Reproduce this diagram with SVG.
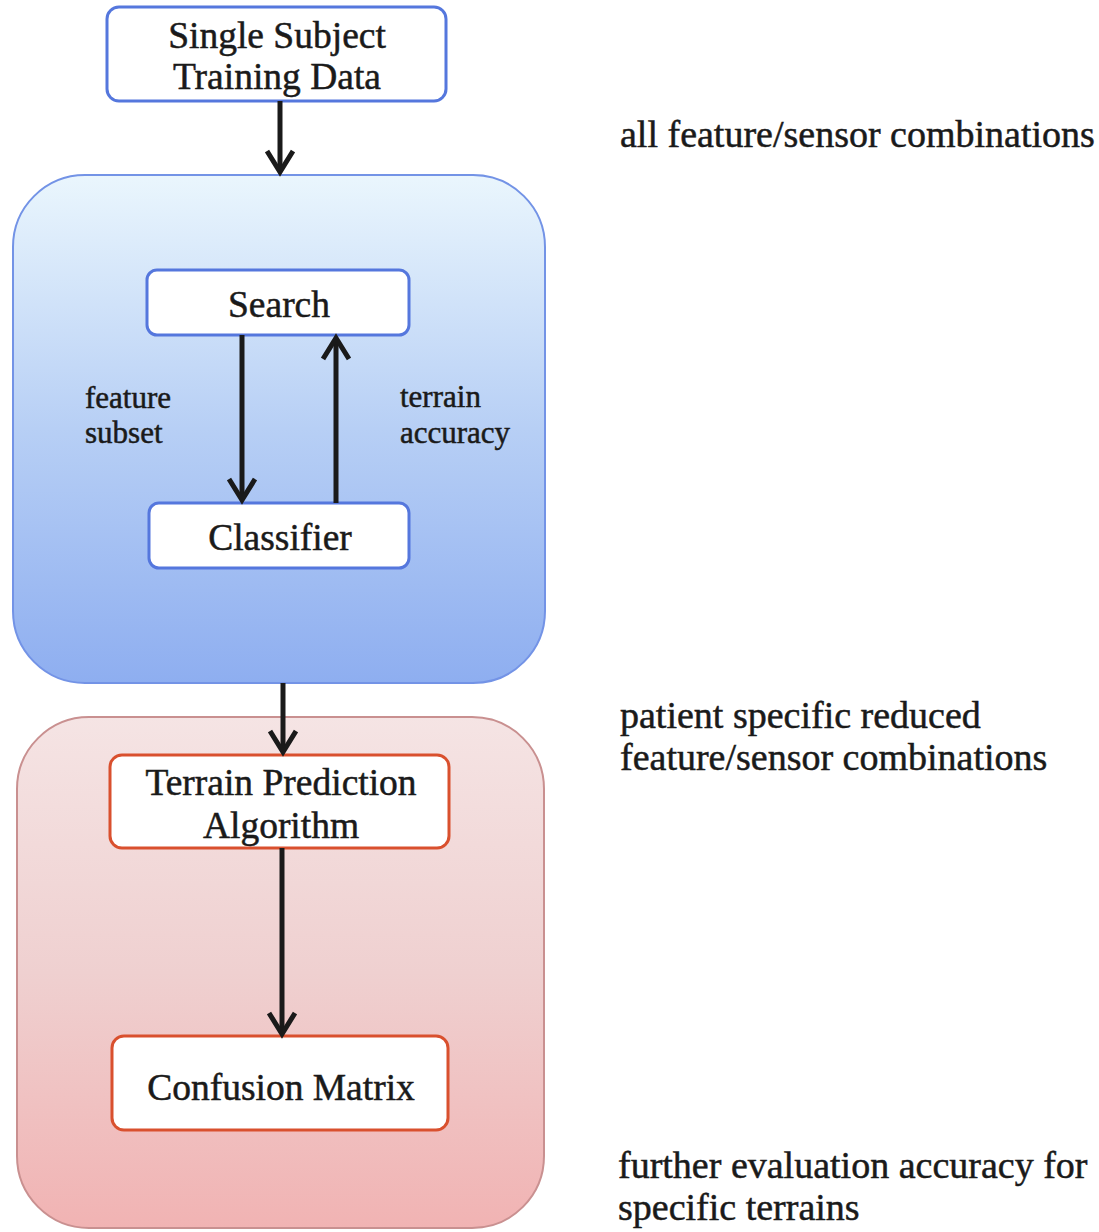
<svg xmlns="http://www.w3.org/2000/svg" width="1099" height="1232" viewBox="0 0 1099 1232">
<defs>
<linearGradient id="gBlue" x1="0" y1="0" x2="0" y2="1">
<stop offset="0" stop-color="#eaf6fd"/>
<stop offset="0.5" stop-color="#b7cff5"/>
<stop offset="1" stop-color="#8eaef0"/>
</linearGradient>
<linearGradient id="gPink" x1="0" y1="0" x2="0" y2="1">
<stop offset="0" stop-color="#f5e4e4"/>
<stop offset="0.5" stop-color="#efd0d0"/>
<stop offset="1" stop-color="#f1b3b3"/>
</linearGradient>
<marker id="ah" viewBox="0 0 30 30" refX="24" refY="15" markerWidth="30" markerHeight="30" markerUnits="userSpaceOnUse" orient="auto">
<path d="M3,2 L24,15 L3,28" fill="none" stroke="#1a1a1a" stroke-width="5" stroke-linejoin="miter"/>
</marker>
</defs>
<style>
text{font-family:"Liberation Serif","Times New Roman",serif;fill:#1a1a1a;stroke:#1a1a1a;stroke-width:0.5;}
.t{font-size:37.5px;text-anchor:middle;}
.s{font-size:31px;}
.r{font-size:38px;}
.bn{fill:#ffffff;stroke:#5577dd;stroke-width:3;}
.rn{fill:#ffffff;stroke:#d9502e;stroke-width:3;}
.c{fill:none;stroke:#1a1a1a;stroke-width:5;marker-end:url(#ah);}
</style>
<rect width="1099" height="1232" fill="#ffffff"/>
<g id="container-blue">
<rect x="13" y="175" width="532" height="508" rx="72" fill="url(#gBlue)" stroke="#7393e6" stroke-width="2"/>
</g>
<g id="container-pink">
<rect x="17" y="717" width="527" height="511" rx="72" fill="url(#gPink)" stroke="#c99090" stroke-width="2"/>
</g>
<g id="node-training">
<rect class="bn" x="107" y="7" width="339" height="94" rx="12"/>
<text class="t" x="277" y="48">Single Subject</text>
<text class="t" x="277" y="89">Training Data</text>
</g>
<g id="node-search">
<rect class="bn" x="147" y="270" width="262" height="65" rx="10"/>
<text class="t" x="279" y="317">Search</text>
</g>
<g id="node-classifier">
<rect class="bn" x="149" y="503" width="260" height="65" rx="10"/>
<text class="t" x="280" y="550">Classifier</text>
</g>
<g id="node-terrain">
<rect class="rn" x="110" y="755" width="339" height="93" rx="12"/>
<text class="t" x="281" y="795">Terrain Prediction</text>
<text class="t" x="281" y="838">Algorithm</text>
</g>
<g id="node-confusion">
<rect class="rn" x="112" y="1036" width="336" height="94" rx="12"/>
<text class="t" x="281" y="1100">Confusion Matrix</text>
</g>
<g id="connectors">
<line class="c" x1="280" y1="101" x2="280" y2="172"/>
<line class="c" x1="242" y1="335" x2="242" y2="500"/>
<line class="c" x1="336" y1="503" x2="336" y2="338"/>
<line class="c" x1="283" y1="683" x2="283" y2="752"/>
<line class="c" x1="282" y1="848" x2="282" y2="1034"/>
</g>
<g id="labels">
<text class="s" x="85" y="408">feature</text>
<text class="s" x="85" y="443">subset</text>
<text class="s" x="400" y="407">terrain</text>
<text class="s" x="400" y="443">accuracy</text>
<text class="r" x="620" y="147">all feature/sensor combinations</text>
<text class="r" x="620" y="728">patient specific reduced</text>
<text class="r" x="620" y="770">feature/sensor combinations</text>
<text class="r" x="618" y="1178">further evaluation accuracy for</text>
<text class="r" x="618" y="1220">specific terrains</text>
</g>
</svg>
